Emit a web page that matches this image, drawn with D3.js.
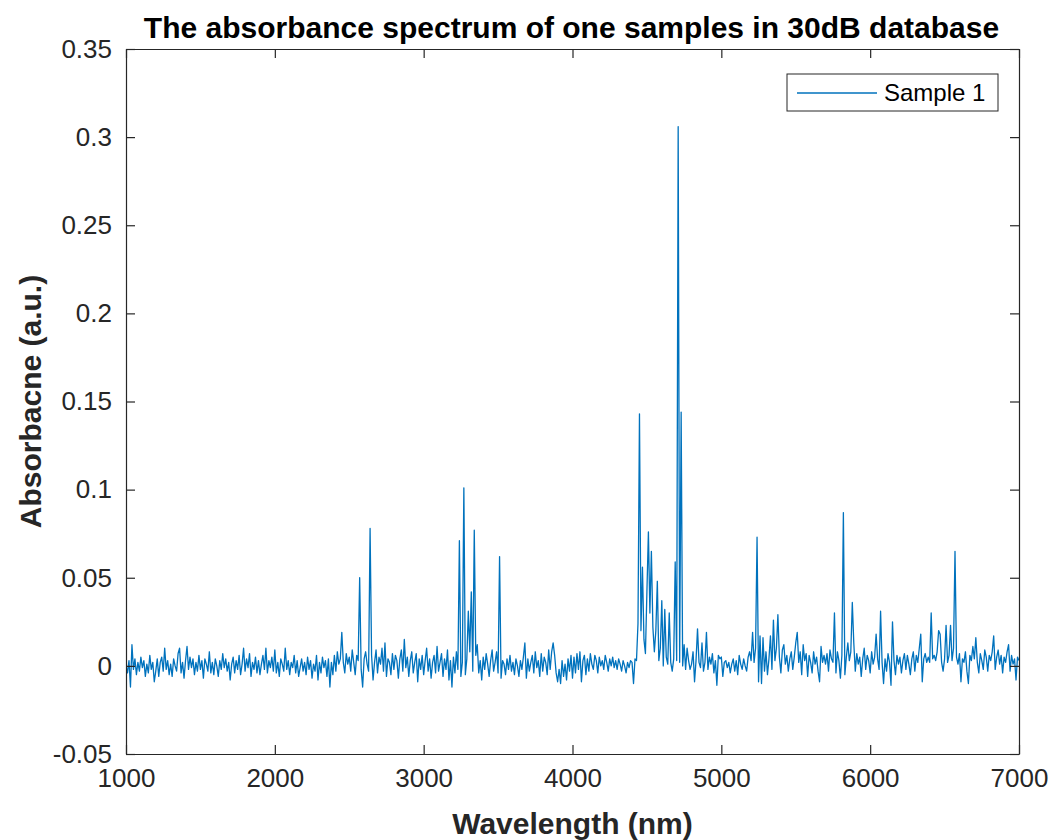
<!DOCTYPE html>
<html>
<head>
<meta charset="utf-8">
<script src="https://cdn.jsdelivr.net/npm/d3@7"></script>
<style>
html,body{margin:0;padding:0;background:#fff;}
svg{display:block;}
text{font-family:"Liberation Sans",Arial,Helvetica,sans-serif;}
</style>
</head>
<body>
<svg id="chart" width="1052" height="840"></svg>
<script>
// ---- data ----
const titleText = "The absorbance spectrum of one samples in 30dB database";
const xLabel = "Wavelength (nm)";
const yLabel = "Absorbacne (a.u.)";
const seriesName = "Sample 1";
const wlStart = 1000, wlStep = 10;           // nm
const xTicks = [1000, 2000, 3000, 4000, 5000, 6000, 7000];
const yTicks = [-0.05, 0, 0.05, 0.1, 0.15, 0.2, 0.25, 0.3, 0.35];
const yTickLabels = ["-0.05", "0", "0.05", "0.1", "0.15", "0.2", "0.25", "0.3", "0.35"];
// absorbance, in units of 0.001 a.u., one value every 10 nm from 1000 to 7000 nm
const absorbanceMilli = [
  0,-4,3,-12,12,-2,4,-5,2,-3,
  5,-1,3,-6,1,-4,6,-2,2,-9,
  -3,4,-6,2,5,-3,10,-2,3,-5,
  1,-6,4,0,-3,7,10,-4,2,-7,
  3,11,-2,5,-1,4,-5,2,-3,6,
  -2,3,-7,4,1,-3,8,-4,2,-5,
  4,0,-6,3,-2,7,-1,4,-3,2,
  -8,1,5,-4,3,-2,6,-5,1,10,
  -3,4,-1,7,-6,2,-2,5,-4,3,
  -5,1,6,-2,10,-4,3,-1,5,-3,
  9,-4,2,-6,4,1,-3,10,-2,3,
  -5,2,-1,6,-4,3,-6,-1,4,-3,
  2,-5,5,-2,3,-7,1,-3,6,-8,
  2,-4,5,-1,3,-6,4,-12,2,-5,
  6,-3,8,1,4,19,2,-4,7,1,
  5,-3,9,2,-5,6,3,50,-2,-12,
  4,8,1,-3,78,6,-8,2,9,-4,
  5,1,10,-3,13,-6,4,2,-5,7,
  -2,6,3,-7,4,9,-3,15,-1,5,
  -6,3,8,-4,2,7,-9,4,-2,6,
  -5,3,10,-3,4,-7,2,6,-4,11,
  -3,2,7,-6,4,-2,9,-8,3,-12,
  5,-4,8,-2,71,-6,2,101,-5,4,
  31,8,42,-3,77,6,12,-4,3,-8,
  5,-2,7,1,-6,3,9,-3,2,8,
  -4,62,-7,3,1,-5,4,-2,6,-3,
  2,-5,4,0,-6,3,-2,5,13,-7,
  4,-3,2,6,-4,8,-1,3,-6,7,
  -3,5,2,-5,9,-2,8,13,6,-4,
  -9,-2,-10,3,-6,1,-8,4,-3,6,
  -7,5,-4,7,-2,8,-9,3,6,-5,
  4,-3,7,1,-2,6,3,-4,5,0,
  3,-2,6,2,-3,4,0,5,-1,3,
  -2,4,1,-3,3,0,-4,2,-1,3,
  2,-10,4,3,24,143,20,56,15,7,
  42,76,30,65,22,8,20,48,3,10,
  37,0,32,5,1,30,2,-3,4,59,
  3,306,2,144,0,12,-2,10,3,-2,
  1,8,-9,3,21,2,-1,13,-3,2,
  19,-2,5,1,7,-4,3,-11,6,4,
  5,-6,2,3,-1,2,-4,1,4,-3,
  3,-5,6,1,-2,4,0,-3,5,8,
  3,19,2,10,73,-9,17,-10,16,-3,
  8,-5,4,17,-2,26,3,10,29,5,
  -4,9,12,1,6,-3,4,8,-2,5,
  13,19,2,8,-5,12,3,7,-6,6,
  2,-4,8,1,5,-3,-9,11,2,6,
  1,7,-3,9,4,2,30,-4,8,3,
  -7,6,87,-5,5,13,3,8,36,13,
  -3,7,1,5,-6,4,10,-2,6,3,
  -4,8,1,5,18,4,-2,31,2,-10,
  4,-3,7,2,-11,25,3,-5,6,1,
  5,-4,3,7,-2,6,1,-5,4,8,
  -3,6,2,10,18,-9,4,7,2,5,
  2,30,4,6,3,8,20,18,2,-3,
  4,23,2,6,23,3,10,65,5,1,
  7,-9,4,2,8,-3,-10,6,3,11,
  4,16,2,-4,7,3,-2,9,5,-3,
  6,3,8,17,-2,5,9,1,6,-4,
  5,2,8,12,-3,6,1,4,-8,5,
  3
];
const milli = 0.001;

// ---- layout ----
const svg = d3.select("#chart");
const plot = {left:126, right:1019, top:49, bottom:754};
const axisColor = "#262626";
const lineColor = "#0072BD";

const data = absorbanceMilli.map((v,i)=>({x: wlStart + i*wlStep, y: v*milli}));

const x = d3.scaleLinear().domain([1000,7000]).range([plot.left, plot.right]);
const y = d3.scaleLinear().domain([-0.05,0.35]).range([plot.bottom, plot.top]);

svg.append("clipPath").attr("id","clip").append("rect")
  .attr("x",plot.left).attr("y",plot.top)
  .attr("width",plot.right-plot.left).attr("height",plot.bottom-plot.top);

svg.append("path").datum(data)
  .attr("clip-path","url(#clip)")
  .attr("fill","none").attr("stroke",lineColor).attr("stroke-width",1.3)
  .attr("stroke-linejoin","round")
  .attr("d", d3.line().x(d=>x(d.x)).y(d=>y(d.y)));

const tickLen = 9;
const fontSize = 26;

function styleAxis(g, showLabels){
  g.select(".domain").attr("stroke",axisColor).attr("stroke-width",1.2);
  g.selectAll(".tick line").attr("stroke",axisColor).attr("stroke-width",1.2);
  g.selectAll(".tick text").attr("fill",axisColor).style("font-size",fontSize+"px")
    .style("font-family",'"Liberation Sans",Arial,sans-serif');
  if(!showLabels) g.selectAll(".tick text").remove();
}

svg.append("g").attr("transform",`translate(0,${plot.bottom})`)
  .call(d3.axisBottom(x).tickValues(xTicks).tickFormat(d3.format("d"))
        .tickSizeInner(-tickLen).tickSizeOuter(0).tickPadding(tickLen+6))
  .call(g=>styleAxis(g,true));
svg.append("g").attr("transform",`translate(0,${plot.top})`)
  .call(d3.axisTop(x).tickValues(xTicks).tickSizeInner(-tickLen).tickSizeOuter(0))
  .call(g=>styleAxis(g,false));
svg.append("g").attr("transform",`translate(${plot.left},0)`)
  .call(d3.axisLeft(y).tickValues(yTicks).tickFormat((d,i)=>yTickLabels[i])
        .tickSizeInner(-tickLen).tickSizeOuter(0).tickPadding(tickLen+5))
  .call(g=>styleAxis(g,true));
svg.append("g").attr("transform",`translate(${plot.right},0)`)
  .call(d3.axisRight(y).tickValues(yTicks).tickSizeInner(-tickLen).tickSizeOuter(0))
  .call(g=>styleAxis(g,false));

svg.append("text").attr("x",(plot.left+plot.right)/2 - 1).attr("y",38)
  .attr("text-anchor","middle").attr("font-weight","bold")
  .style("font-size","30px").attr("fill","#000").text(titleText);

svg.append("text").attr("x",(plot.left+plot.right)/2).attr("y",834)
  .attr("text-anchor","middle").attr("font-weight","bold")
  .style("font-size","30px").attr("fill",axisColor).text(xLabel);

svg.append("text").attr("transform",`translate(41,${(plot.top+plot.bottom)/2}) rotate(-90)`)
  .attr("text-anchor","middle").attr("font-weight","bold")
  .style("font-size","30px").attr("fill",axisColor).text(yLabel);

const lg = svg.append("g");
lg.append("rect").attr("x",787).attr("y",74).attr("width",211).attr("height",37)
  .attr("fill","#fff").attr("stroke",axisColor).attr("stroke-width",1);
lg.append("line").attr("x1",797).attr("x2",877).attr("y1",93).attr("y2",93)
  .attr("stroke",lineColor).attr("stroke-width",1.3);
lg.append("text").attr("x",884).attr("y",101).style("font-size","24px")
  .attr("fill","#000").text(seriesName);
</script>
</body>
</html>
